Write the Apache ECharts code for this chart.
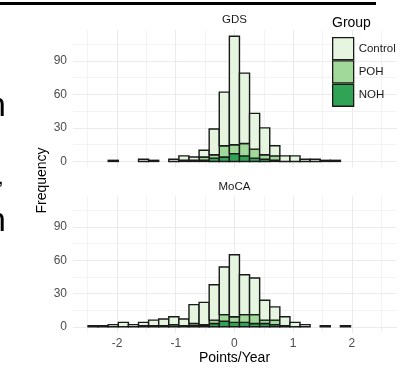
<!DOCTYPE html>
<html>
<head>
<meta charset="utf-8">
<script src="https://cdn.jsdelivr.net/npm/echarts@6/dist/echarts.min.js"></script>
<style>
  html, body { margin: 0; padding: 0; background: #fff; }
  #chart { width: 400px; height: 372px; }
</style>
</head>
<body>
<div id="chart"></div>
<script>
// histogram bins (points/year), one entry per bin
var binCenters = [-2.408, -2.236, -2.064, -1.892, -1.720, -1.548, -1.376, -1.204, -1.032,
  -0.860, -0.688, -0.516, -0.344, -0.172, 0, 0.172, 0.344, 0.516, 0.688, 0.860,
  1.032, 1.204, 1.376, 1.548, 1.720, 1.892];
var binWidth = 0.172;

// counts per group, GDS panel
var gdsControl = [0, 0, 1, 0, 0, 2, 1, 0, 2, 4, 3, 6, 23, 48, 97, 63, 32, 24, 9, 5, 5, 2, 2, 1, 1, 0];
var gdsPOH     = [0, 0, 0, 0, 0, 0, 0, 0, 0, 0, 1, 3, 3, 10, 8, 11, 8, 4, 4, 0, 0, 0, 0, 0, 0, 0];
var gdsNOH     = [0, 0, 0, 0, 0, 0, 0, 0, 0, 1, 0, 1, 3, 4, 7, 5, 3, 2, 1, 0, 0, 0, 0, 0, 0, 0];

// counts per group, MoCA panel
var mocaControl = [1, 1, 2, 4, 2, 3, 5, 6, 7, 6, 17, 20, 32, 43, 56, 36, 33, 18, 12, 8, 4, 2, 0, 1, 0, 1];
var mocaPOH     = [0, 0, 0, 0, 0, 1, 1, 0, 0, 0, 2, 1, 3, 6, 5, 7, 8, 3, 4, 0, 0, 0, 0, 0, 0, 0];
var mocaNOH     = [0, 0, 0, 0, 0, 0, 0, 1, 2, 1, 1, 1, 3, 5, 4, 4, 3, 3, 2, 1, 0, 0, 0, 0, 0, 0];

var panels = ['GDS', 'MoCA'];
var groups = ['Control', 'POH', 'NOH'];
var groupColors = ['#e5f5e0', '#a1d99b', '#31a354'];

var yTicks = [0, 30, 60, 90];
var yMinor = [15, 45, 75, 105];
var xTicks = [-2, -1, 0, 1, 2];
var xMinor = [-2.5, -1.5, -0.5, 0.5, 1.5, 2.5];

var font = 'Liberation Sans';

// stack bottom -> top : NOH, POH, Control
function stackRects(layers) {
  var out = layers.map(function () { return []; });
  for (var i = 0; i < binCenters.length; i++) {
    var base = 0;
    for (var j = 0; j < layers.length; j++) {
      var v = layers[j][i];
      if (v > 0) {
        out[j].push([binCenters[i] - binWidth / 2, binCenters[i] + binWidth / 2, base, base + v]);
      }
      base += v;
    }
  }
  return out;
}

function renderBar(params, api) {
  var p0 = api.coord([api.value(0), api.value(2)]);
  var p1 = api.coord([api.value(1), api.value(3)]);
  return {
    type: 'rect',
    shape: { x: p0[0], y: p1[1], width: p1[0] - p0[0], height: p0[1] - p1[1] },
    style: { fill: api.visual('color'), stroke: '#1a1a1a', lineWidth: 1.4 }
  };
}

var panelData = [
  stackRects([gdsNOH, gdsPOH, gdsControl]),
  stackRects([mocaNOH, mocaPOH, mocaControl])
];

var grids = [
  { left: 73, top: 30, width: 324, height: 137.7, outerBoundsMode: 'none' },
  { left: 73, top: 196.5, width: 324, height: 136.5, outerBoundsMode: 'none' }
];

var xAxes = [], yAxes = [], series = [];
for (var g = 0; g < 2; g++) {
  xAxes.push({
    gridIndex: g, type: 'value', min: -2.75, max: 2.77,
    axisLine: { show: false },
    axisTick: { show: false, customValues: xTicks },
    axisLabel: {
      show: g === 1, customValues: xTicks, color: '#4d4d4d', fontSize: 12,
      fontFamily: font, margin: 5
    },
    splitLine: { show: true, lineStyle: { color: '#ebebeb', width: 1.1 } }
  });
  xAxes.push({
    gridIndex: g, type: 'value', min: -2.75, max: 2.77,
    axisLine: { show: false },
    axisTick: { show: false, customValues: xMinor },
    axisLabel: { show: false },
    splitLine: { show: true, lineStyle: { color: '#eeeeee', width: 0.7 } }
  });
  yAxes.push({
    gridIndex: g, type: 'value', min: -5.6, max: 117.6,
    axisLine: { show: false },
    axisTick: { show: false, customValues: yTicks },
    axisLabel: { customValues: yTicks, color: '#4d4d4d', fontSize: 12, fontFamily: font, margin: 6 },
    splitLine: { show: true, lineStyle: { color: '#ebebeb', width: 1.1 } }
  });
  yAxes.push({
    gridIndex: g, type: 'value', min: -5.6, max: 117.6,
    axisLine: { show: false },
    axisTick: { show: false, customValues: yMinor },
    axisLabel: { show: false },
    splitLine: { show: true, lineStyle: { color: '#eeeeee', width: 0.7 } }
  });

  // layers are NOH, POH, Control
  var order = [2, 1, 0];
  for (var j = 0; j < 3; j++) {
    var gi = order[j];
    series.push({
      type: 'custom',
      name: groups[gi],
      xAxisIndex: g * 2,
      yAxisIndex: g * 2,
      renderItem: renderBar,
      encode: { x: [0, 1], y: [2, 3] },
      itemStyle: { color: groupColors[gi] },
      data: panelData[g][j],
      z: 3
    });
  }
}

var myChart = echarts.init(document.getElementById('chart'), null, { renderer: 'canvas' });
var option = {
  animation: false,
  backgroundColor: '#fff',
  grid: grids,
  xAxis: xAxes,
  yAxis: yAxes,
  series: series,
  legend: {
    orient: 'vertical',
    left: 332,
    top: 37,
    padding: 0,
    itemWidth: 21,
    itemHeight: 22,
    itemGap: 0,
    selectedMode: false,
    textStyle: { fontSize: 11.5, color: '#1a1a1a', fontFamily: font },
    data: groups.map(function (name, i) {
      return {
        name: name,
        icon: 'rect',
        itemStyle: { color: groupColors[i], borderColor: '#1a1a1a', borderWidth: 1.3 }
      };
    })
  },
  graphic: [
    { type: 'line', shape: { x1: 0, y1: 3.5, x2: 376, y2: 3.5 }, style: { stroke: '#000', lineWidth: 3 } },
    { type: 'text', x: -13, y: 107, style: { text: 'n', font: '34px ' + font, fill: '#000', textVerticalAlign: 'middle' } },
    { type: 'text', x: -13, y: 222, style: { text: 'n', font: '34px ' + font, fill: '#000', textVerticalAlign: 'middle' } },
    { type: 'text', x: -2, y: 178, style: { text: ',', font: '20px ' + font, fill: '#000', textVerticalAlign: 'middle' } },
    { type: 'text', x: 234.5, y: 19.5, style: { text: panels[0], font: '11.5px ' + font, fill: '#1a1a1a', textAlign: 'center', textVerticalAlign: 'middle' } },
    { type: 'text', x: 234.5, y: 186.5, style: { text: panels[1], font: '11.5px ' + font, fill: '#1a1a1a', textAlign: 'center', textVerticalAlign: 'middle' } },
    { type: 'text', x: 332, y: 23, style: { text: 'Group', font: '14px ' + font, fill: '#000', textVerticalAlign: 'middle' } },
    { type: 'text', x: 234.5, y: 358, style: { text: 'Points/Year', font: '14px ' + font, fill: '#000', textAlign: 'center', textVerticalAlign: 'middle' } },
    { type: 'text', x: 42, y: 180.5, rotation: Math.PI / 2, style: { text: 'Frequency', font: '14px ' + font, fill: '#000', textAlign: 'center', textVerticalAlign: 'middle' } }
  ]
};
myChart.setOption(option);
</script>
</body>
</html>
